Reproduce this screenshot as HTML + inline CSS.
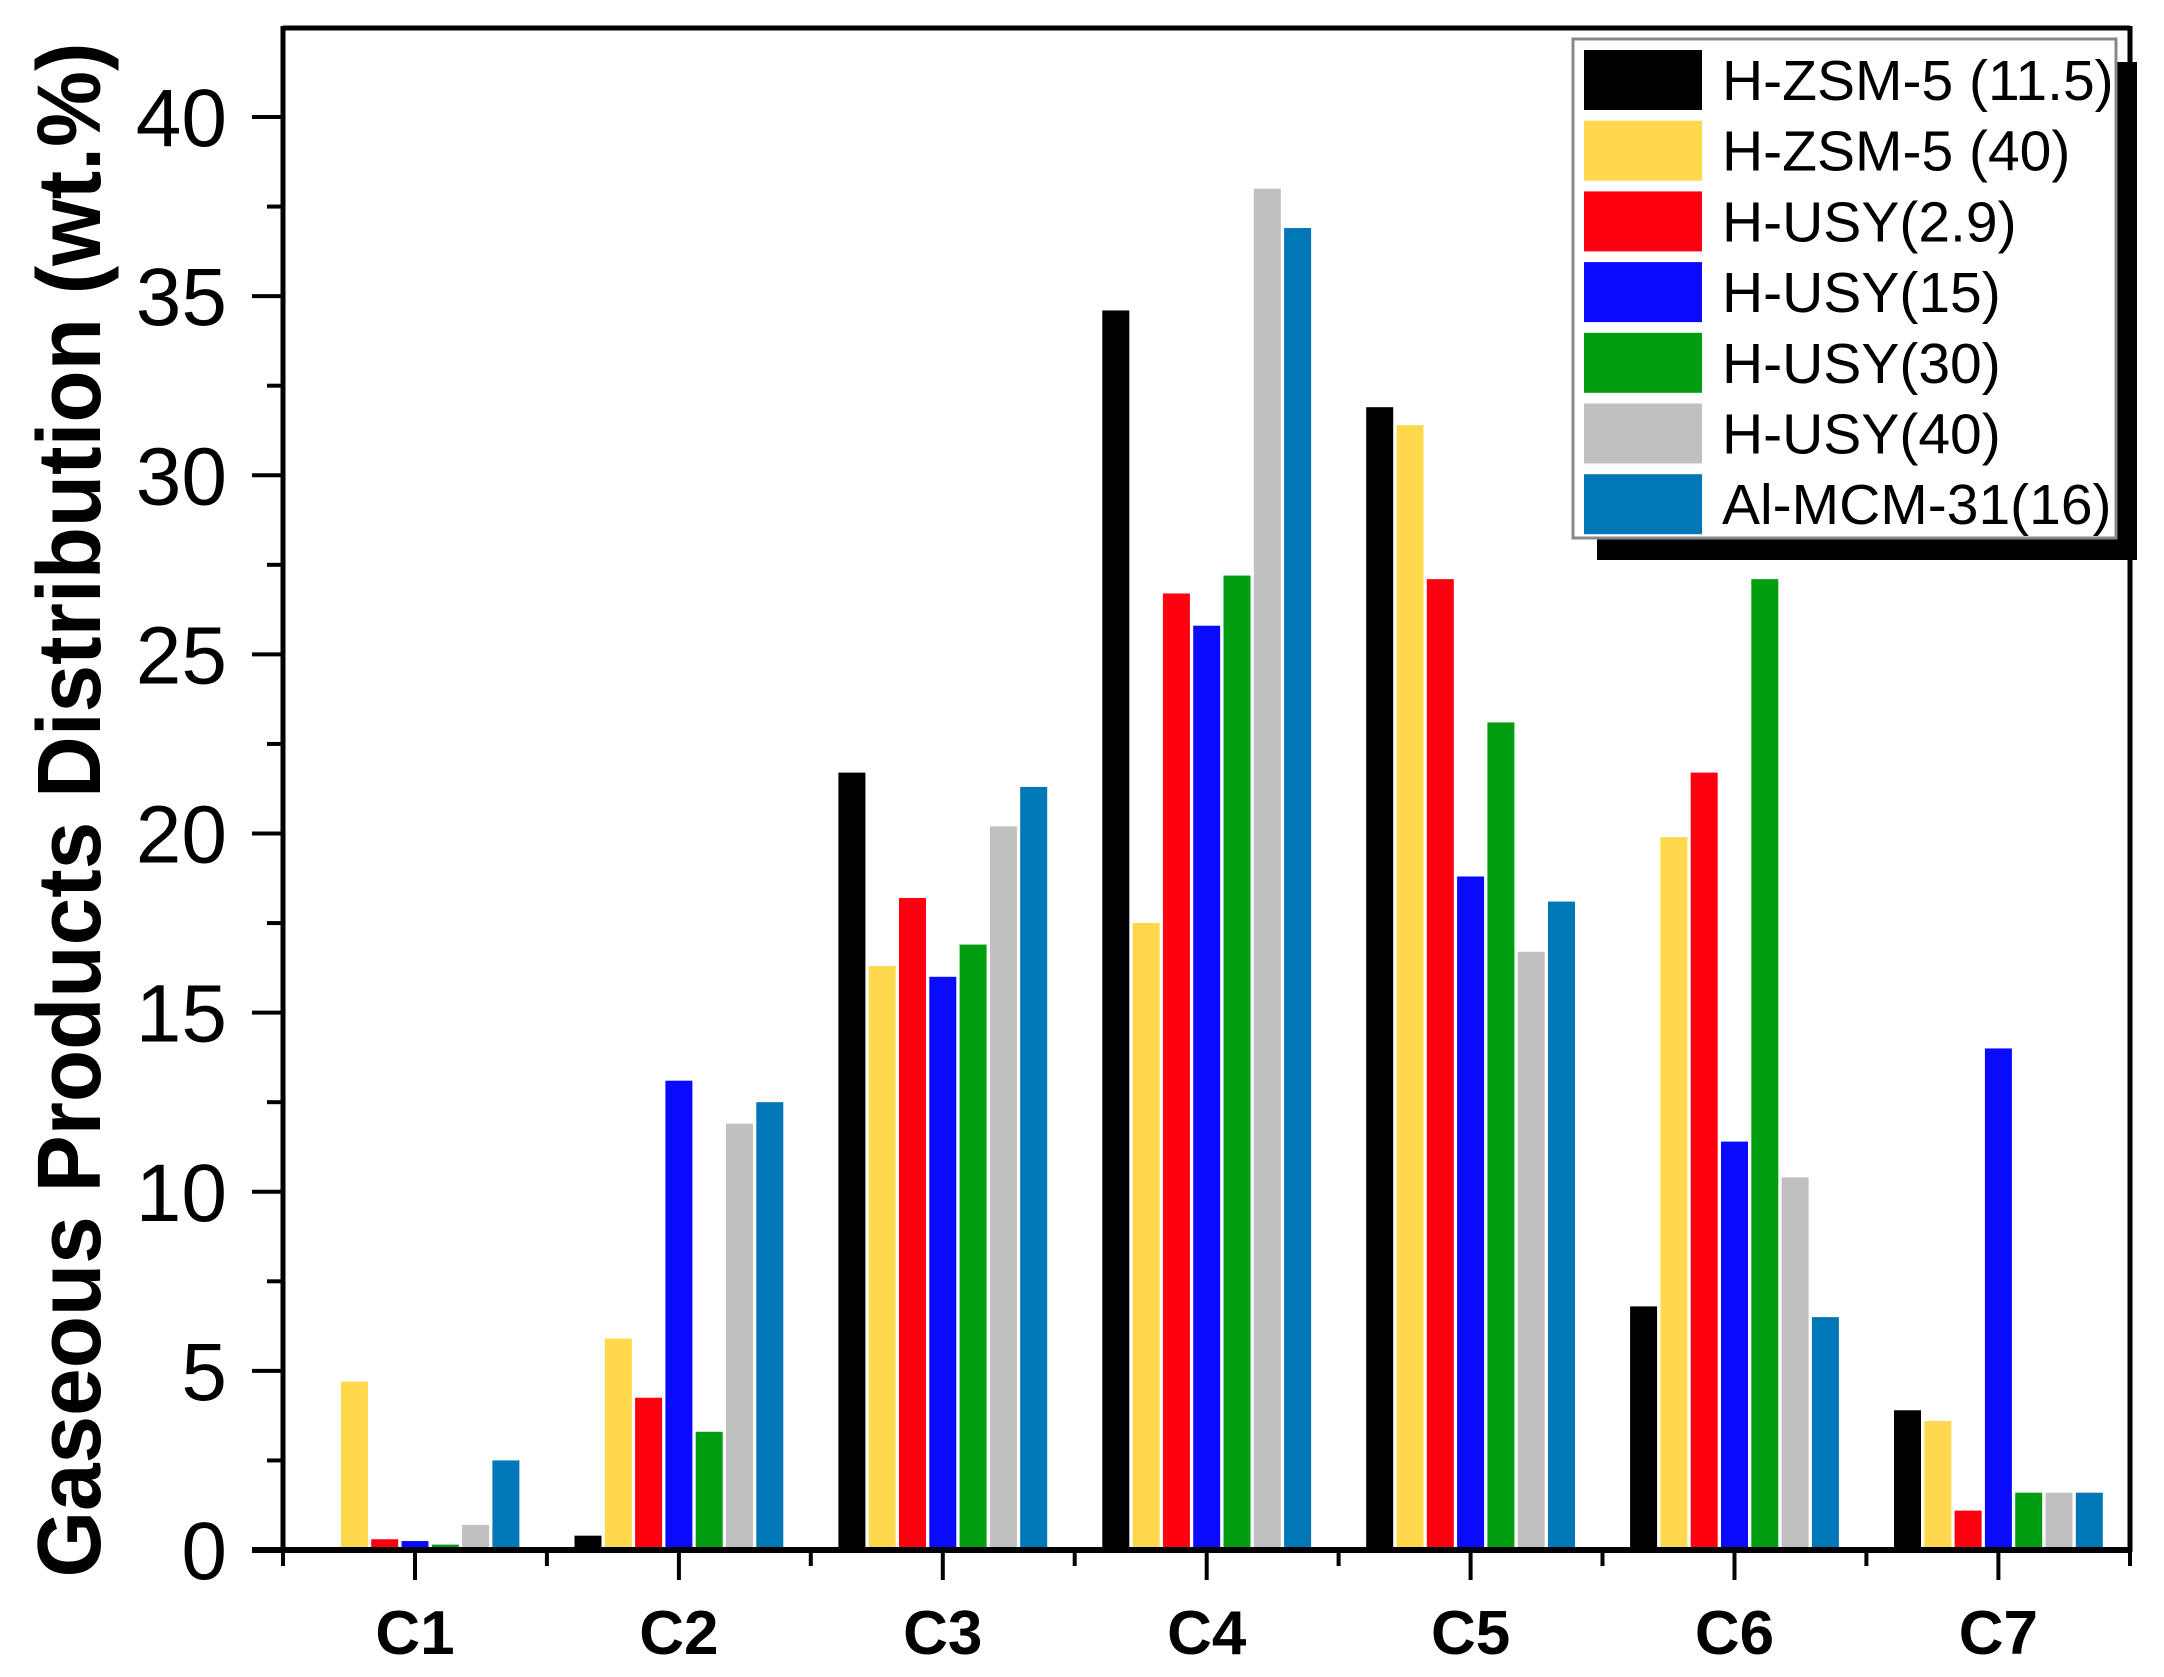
<!DOCTYPE html>
<html><head><meta charset="utf-8"><style>html,body{margin:0;padding:0;background:#fff}svg{display:block}</style></head>
<body>
<svg xmlns="http://www.w3.org/2000/svg" width="2164" height="1677" viewBox="0 0 2164 1677">
<rect width="2164" height="1677" fill="#fff"/>
<g id="bars"></g>
<!-- frame -->
<line x1="283" y1="28" x2="2130" y2="28" stroke="#000" stroke-width="5"/>
<line x1="2130" y1="26" x2="2130" y2="1552" stroke="#000" stroke-width="5"/>
<line x1="283" y1="26" x2="283" y2="1552" stroke="#000" stroke-width="5"/>
<line x1="252" y1="1550" x2="2132" y2="1550" stroke="#000" stroke-width="6"/>
<g id="ticks" stroke="#000" stroke-width="4"></g>
<g id="labels" font-family="Liberation Sans, sans-serif"></g>
<text transform="translate(100,810) rotate(-90)" text-anchor="middle" font-family="Liberation Sans, sans-serif" font-weight="bold" font-size="90" textLength="1535" lengthAdjust="spacingAndGlyphs">Gaseous Products Distribution (wt.%)</text>
<!-- legend -->
<rect x="1597" y="62" width="540" height="498" fill="#000"/>
<rect x="1573" y="39" width="543" height="499" fill="#fff" stroke="#888" stroke-width="3"/>
<g id="legend" font-family="Liberation Sans, sans-serif" font-size="57"></g>
<script>
const NS="http://www.w3.org/2000/svg";
function el(p,t,a,txt){const e=document.createElementNS(NS,t);for(const k in a)e.setAttribute(k,a[k]);if(txt!==undefined)e.textContent=txt;p.appendChild(e);return e;}
const cols=["#000000","#FFD84C","#FF0010","#0A0AFF","#009E10","#C0C0C0","#0077B6"];
const names=["H-ZSM-5 (11.5)","H-ZSM-5 (40)","H-USY(2.9)","H-USY(15)","H-USY(30)","H-USY(40)","Al-MCM-31(16)"];
const data=[[0,4.7,0.3,0.25,0.15,0.7,2.5],[0.4,5.9,4.25,13.1,3.3,11.9,12.5],[21.7,16.3,18.2,16.0,16.9,20.2,21.3],[34.6,17.5,26.7,25.8,27.2,38.0,36.9],[31.9,31.4,27.1,18.8,23.1,16.7,18.1],[6.8,19.9,21.7,11.4,27.1,10.4,6.5],[3.9,3.6,1.1,14.0,1.6,1.6,1.6]];
const y0=1550,sc=(1550-117)/40;
const cx=i=>415+i*263.9;
const bars=document.getElementById('bars');
data.forEach((g,i)=>g.forEach((v,j)=>{if(v<=0)return;const x=cx(i)+(j-3)*30.3-13.5;el(bars,'rect',{x:x,y:y0-v*sc,width:27,height:v*sc,fill:cols[j]});}));
const tk=document.getElementById('ticks'),lb=document.getElementById('labels');
for(let k=0;k<=16;k++){const v=k*2.5,y=y0-v*sc;const maj=k%2==0;el(tk,'line',{x1:maj?252:267,y1:y,x2:283,y2:y});if(maj)el(lb,'text',{x:227,y:y+29,'text-anchor':'end','font-size':82},String(v));}
for(let i=0;i<7;i++){const x=cx(i);el(tk,'line',{x1:x,y1:1550,x2:x,y2:1580});el(tk,'line',{x1:x-132,y1:1550,x2:x-132,y2:1566});el(lb,'text',{x:x,y:1654,'text-anchor':'middle','font-size':62,'font-weight':'bold'},'C'+(i+1));}
el(tk,'line',{x1:2130,y1:1550,x2:2130,y2:1566});
const lg=document.getElementById('legend');
names.forEach((n,j)=>{const cy=80+j*70.7;el(lg,'rect',{x:1584,y:cy-30,width:118,height:60,fill:cols[j]});el(lg,'text',{x:1722,y:cy+20},n);});
</script>
</svg>
</body></html>
